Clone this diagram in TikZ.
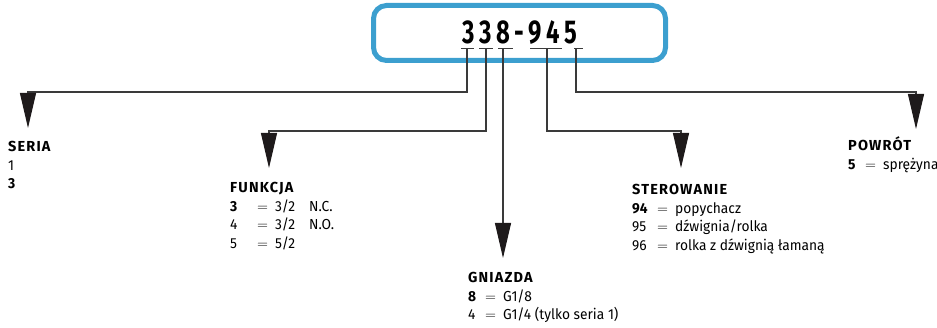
\documentclass[tikz,border=0pt]{standalone}
\usepackage{fontspec}
\usetikzlibrary{arrows.meta}
\setmainfont{Fira Sans}[FakeStretch=0.95]
\newfontfamily\headfont{Fira Sans}[LetterSpace=8]
\newfontfamily\codefont{Fira Sans}[FakeStretch=0.72, LetterSpace=14]
\definecolor{boxblue}{HTML}{3C9FCF}
\definecolor{linegray}{HTML}{3A3A3A}
\definecolor{tipblack}{HTML}{1E1A1B}
\newcommand{\opt}[3]{\makebox[#1][l]{#2}\makebox[18pt][l]{$=$}#3}

\begin{document}
\begin{tikzpicture}[x=1pt, y=-1pt,
    optlist/.style={anchor=base west, inner sep=0pt, align=left,
        font=\fontsize{14.5}{18.5}\selectfont},
    link/.style={draw=linegray, line width=1.1pt,
        -{Triangle[length=35pt, width=16pt, color=tipblack]}},
    digitmark/.style={draw=linegray, line width=1pt}]
    \useasboundingbox (0,0) rectangle (937,328);

    % Code box
    \node[draw=boxblue, line width=5pt, rounded corners=13pt,
        minimum width=292pt, minimum height=55pt, inner sep=0pt,
        font=\codefont\bfseries\fontsize{33}{33}\selectfont] (code) at (519.5,33) {338-945};

    % Digit marks
    \coordinate (d1) at (467,49);
    \coordinate (d2) at (486,49);
    \coordinate (d3) at (503,49);
    \coordinate (d4) at (547,49);
    \coordinate (d5) at (576,49);
    \draw[digitmark] ([xshift=-6pt]d1) -- ([xshift=7pt]d1);
    \draw[digitmark] ([xshift=-7pt]d2) -- ([xshift=7pt]d2);
    \draw[digitmark] ([xshift=-5pt]d3) -- ([xshift=10pt]d3);
    \draw[digitmark] ([xshift=-17pt]d4) -- ([xshift=15pt]d4);
    \draw[digitmark] ([xshift=-2pt]d5) -- ([xshift=7pt]d5);

    % Option lists (base = baseline of the last line)
    \node[optlist] (seria) at (8,189) {{\headfont\bfseries SERIA}\\
        1\\
        \textbf{3}};
    \node[optlist] (funkcja) at (230,248.5) {{\headfont\bfseries FUNKCJA}\\
        \opt{27pt}{\textbf{3}}{3/2\hspace{14pt}N.C.}\\
        \opt{27pt}{4}{3/2\hspace{14pt}N.O.}\\
        \opt{27pt}{5}{5/2}};
    \node[optlist] (gniazda) at (468,320) {{\headfont\bfseries GNIAZDA}\\
        \opt{17pt}{\textbf{8}}{G1/8}\\
        \opt{17pt}{4}{G1/4 (tylko seria 1)}};
    \node[optlist] (sterowanie) at (632,250.5) {{\headfont\bfseries STEROWANIE}\\
        \opt{25pt}{\textbf{94}}{popychacz}\\
        \opt{25pt}{95}{dźwignia/rolka}\\
        \opt{25pt}{96}{rolka z dźwignią łamaną}};
    \node[optlist] (powrot) at (848,169.5) {{\headfont\bfseries POWRÓT}\\
        \opt{17pt}{\textbf{5}}{sprężyna}};

    % Arrow tips
    \coordinate (seriaTip) at (28,128);
    \coordinate (funkcjaTip) at (269,168);
    \coordinate (gniazdaTip) at (503,258);
    \coordinate (sterowanieTip) at (681,168);
    \coordinate (powrotTip) at (916,129);

    % Draw connections
    \draw[link] (d1) |- ([yshift=36pt]seriaTip) -- (seriaTip);
    \draw[link] (d2) |- ([yshift=37pt]funkcjaTip) -- (funkcjaTip);
    \draw[link] (d3) -- (gniazdaTip);
    \draw[link] (d4) |- ([yshift=37pt]sterowanieTip) -- (sterowanieTip);
    \draw[link] (d5) |- ([yshift=37pt]powrotTip) -- (powrotTip);
\end{tikzpicture}
\end{document}
